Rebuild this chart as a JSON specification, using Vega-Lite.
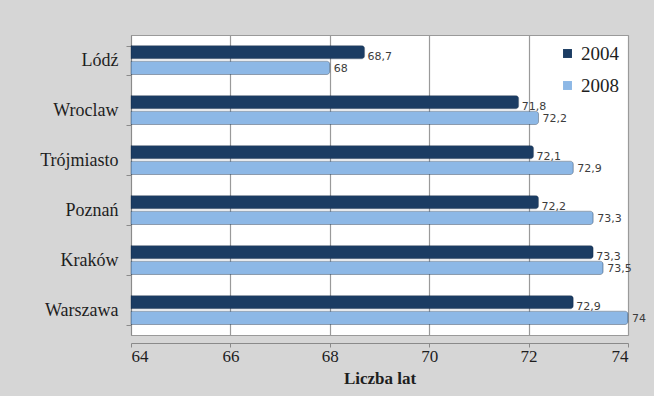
{
  "$schema": "https://vega.github.io/schema/vega-lite/v6.json",
  "autosize": {"type": "none"},
  "width": 497,
  "height": 300,
  "padding": {"left": 131, "top": 35, "right": 26, "bottom": 61},
  "background": "#d6d6d6",
  "config": {
    "locale": {"number": {"decimal": ",", "thousands": " ", "grouping": [3], "currency": ["", " zł"]}},
    "view": {"fill": "white", "stroke": "#9a9a9a", "strokeWidth": 1},
    "font": "Liberation Serif"
  },
  "data": {
    "values": [
      {"miasto": "Lódź", "rok": "2004", "lat": 68.7},
      {"miasto": "Lódź", "rok": "2008", "lat": 68},
      {"miasto": "Wroclaw", "rok": "2004", "lat": 71.8},
      {"miasto": "Wroclaw", "rok": "2008", "lat": 72.2},
      {"miasto": "Trójmiasto", "rok": "2004", "lat": 72.1},
      {"miasto": "Trójmiasto", "rok": "2008", "lat": 72.9},
      {"miasto": "Poznań", "rok": "2004", "lat": 72.2},
      {"miasto": "Poznań", "rok": "2008", "lat": 73.3},
      {"miasto": "Kraków", "rok": "2004", "lat": 73.3},
      {"miasto": "Kraków", "rok": "2008", "lat": 73.5},
      {"miasto": "Warszawa", "rok": "2004", "lat": 72.9},
      {"miasto": "Warszawa", "rok": "2008", "lat": 74}
    ]
  },
  "encoding": {
    "y": {
      "field": "miasto", "type": "nominal", "sort": null,
      "scale": {"paddingInner": 0.42, "paddingOuter": 0.21},
      "axis": {
        "title": null, "labelFont": "Liberation Serif", "labelFontSize": 18,
        "labelColor": "#1e1e1e", "labelPadding": 8, "tickColor": "#8a8a8a",
        "domainColor": "#8a8a8a", "tickSize": 5, "tickBand": "extent", "ticks": true
      }
    },
    "yOffset": {"field": "rok", "type": "nominal", "scale": {"paddingInner": 0.15}},
    "x": {
      "field": "lat", "type": "quantitative",
      "scale": {"domain": [64, 74], "nice": false, "zero": false, "clamp": true},
      "axis": {
        "title": "Liczba lat", "values": [64, 66, 68, 70, 72, 74], "format": "d",
        "titleFont": "Liberation Serif", "titleFontSize": 17, "titleFontWeight": "bold",
        "titleColor": "#1e1e1e", "titlePadding": 6,
        "labelFont": "Liberation Serif", "labelFontSize": 17, "labelColor": "#1e1e1e",
        "labelPadding": 1, "offset": 8, "gridColor": "#9a9a9a", "gridWidth": 1.2,
        "domainColor": "#8a8a8a", "tickColor": "#8a8a8a", "tickSize": 4
      }
    }
  },
  "layer": [
    {
      "mark": {"type": "bar", "cornerRadiusEnd": 3, "stroke": "#0f2440", "strokeWidth": 0.6, "strokeOpacity": 0.5},
      "encoding": {
        "color": {
          "field": "rok", "type": "nominal",
          "scale": {"domain": ["2004", "2008"], "range": ["#1b3c63", "#8db8e6"]},
          "legend": {
            "title": null, "orient": "top-right", "offset": 5,
            "symbolType": "square", "symbolSize": 80, "symbolStrokeWidth": 0,
            "labelFont": "Liberation Serif", "labelFontSize": 19, "labelColor": "#1e1e1e",
            "rowPadding": 12, "padding": 4
          }
        }
      }
    },
    {
      "transform": [{"filter": "datum.rok == '2004'"}],
      "mark": {"type": "text", "align": "left", "baseline": "middle", "dx": 3, "dy": 5, "font": "DejaVu Sans", "fontSize": 11, "color": "#3c3c3c"},
      "encoding": {"text": {"field": "lat", "type": "quantitative", "format": "~g"}}
    },
    {
      "transform": [{"filter": "datum.rok == '2008'"}],
      "mark": {"type": "text", "align": "left", "baseline": "middle", "dx": 4, "dy": 1, "font": "DejaVu Sans", "fontSize": 11, "color": "#3c3c3c"},
      "encoding": {"text": {"field": "lat", "type": "quantitative", "format": "~g"}}
    }
  ]
}
